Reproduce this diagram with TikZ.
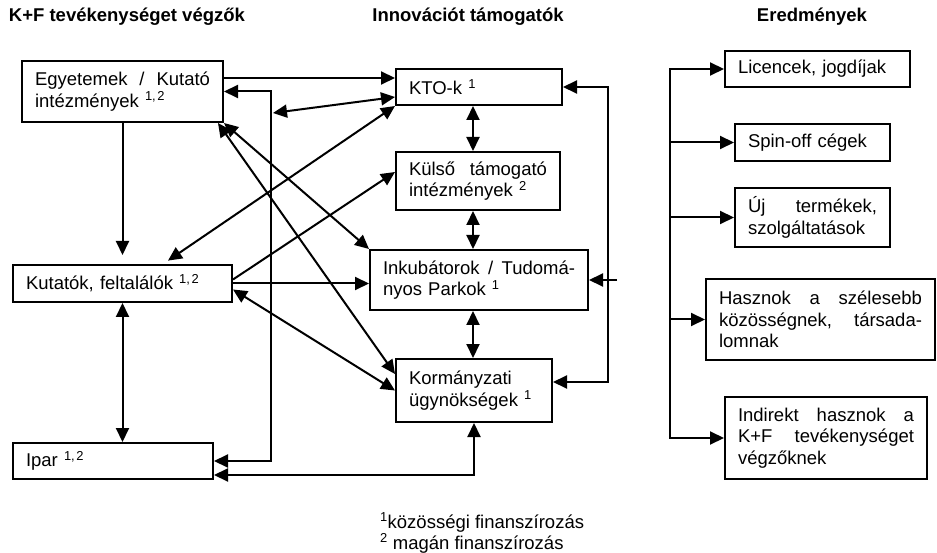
\documentclass[tikz,border=0pt]{standalone}
\usepackage{fontspec}
\setmainfont{Liberation Sans}
\usetikzlibrary{positioning, calc, arrows.meta}

\tikzset{
	blk/.style={rectangle, draw, inner xsep=13pt, inner ysep=0pt, align=left, font=\fontsize{18.5}{21.5}\selectfont},
	hdr/.style={inner sep=0pt, font=\fontsize{18.5}{21.5}\selectfont\bfseries},
	fnote/.style={inner sep=0pt, font=\fontsize{18.5}{21.5}\selectfont}
}

\begin{document}
\begin{tikzpicture}[x=1pt, y=-1pt, line width=2pt, >={Triangle[length=14pt, width=13pt]}]
			\useasboundingbox (0,0) rectangle (937,553);
			% Define the headers
			\node (hkf) [hdr, anchor=west] at (8,17) {K+F tevékenységet végzők};
			\node (hinno) [hdr] at (468,17) {Innovációt támogatók};
			\node (hered) [hdr] at (812,17) {Eredmények};
			% Define the nodes
			\node (egy) [blk, text width=175pt, minimum height=61pt] at (122.5,91.5) {Egyetemek \hfill/ \hfill Kutató\\intézmények \textsuperscript{1,\kern1.5pt2}};
			\node (kut) [blk, text width=193pt, minimum height=37pt] at (122.5,283.5) {Kutatók, feltalálók \textsuperscript{1,\kern1.5pt2}};
			\node (ipar) [blk, text width=174pt, minimum height=36pt] at (113,461) {Ipar \textsuperscript{1,\kern1.5pt2}};
			\node (kto) [blk, text width=140pt, minimum height=36pt] at (479,87) {KTO-k \textsuperscript{1}};
			\node (kulso) [blk, text width=138pt, minimum height=58pt] at (478,181) {Külső \hfill támogató\\intézmények \textsuperscript{2}};
			\node (inku) [blk, text width=192pt, minimum height=60pt] at (479,280) {Inkubátorok \hfill/ \hfill Tudomá-\\nyos Parkok \textsuperscript{1}};
			\node (korm) [blk, text width=130pt, minimum height=63pt] at (474,390.5) {Kormányzati\\ügynökségek \textsuperscript{1}};
			\node (lic) [blk, text width=159pt, minimum height=36pt] at (817.5,69) {Licencek, jogdíjak};
			\node (spin) [blk, text width=129pt, minimum height=37pt] at (812.5,142.5) {Spin-off cégek};
			\node (uj) [blk, text width=129pt, minimum height=59pt] at (812.5,217.5) {Új \hfill termékek,\\szolgáltatások};
			\node (hasz) [blk, text width=203pt, minimum height=81pt] at (820.5,319.5) {Hasznok \hfill a \hfill szélesebb\\közösségnek, \hfill társada-\\lomnak};
			\node (indi) [blk, text width=176pt, minimum height=82pt] at (826,438) {Indirekt \hfill hasznok \hfill a\\K+F \hfill tevékenységet\\végzőknek};
			% Footnotes
			\node (fn1) [fnote, anchor=base west] at (379,528) {\textsuperscript{1}közösségi finanszírozás};
			\node (fn2) [fnote, anchor=base west] at (379,549) {\textsuperscript{2} magán finanszírozás};
			% Bends and free ends
			\coordinate (lbus) at (271,461);
			\coordinate (lbusm) at (273,113);
			\coordinate (rbus) at (608,382);
			\coordinate (rstub) at (617,280);
			\coordinate (mcol) at (473,0);
			\coordinate (rtree) at (670,0);
			% Connect the nodes
			\draw [->] (egy.east |- 0,78) -- (kto.west |- 0,78);
			\draw [<->] (egy.east) -| (lbus) -- (ipar.east);
			\draw [<->] (lbusm) -- (kto.west |- 0,97);
			\draw [<->, shorten <=6pt] (163,0 |- kut.north) -- (kto.south west);
			\draw [->] ([yshift=4pt]kut.east) -- (kulso.west |- 0,172);
			\draw [<->] (egy.south east) -- (inku.north west);
			\draw [<->] ([xshift=-6pt]egy.south east) -- (korm.west |- 0,374);
			\draw [->] (kut.east) -- (kut.east -| inku.west);
			\draw [<->] ([yshift=-6pt]kut.east) -- (korm.west);
			\draw [->, shorten >=9pt] (egy.south) -- (egy.south |- kut.north);
			\draw [<->] (kut.south) -- (kut.south |- ipar.north);
			\draw [<->] ([yshift=-14pt]ipar.east) -| (korm.south);
			\draw [<->] (mcol |- kto.south) -- (mcol |- kulso.north);
			\draw [<->] (mcol |- kulso.south) -- (mcol |- inku.north);
			\draw [<->] (mcol |- inku.south) -- (mcol |- korm.north);
			\draw [<->] (kto.east) -| (rbus) -- (korm.east |- rbus);
			\draw [->] (rstub) -- (inku.east);
			% Results tree
			\draw [<->] (lic.west) -| (rtree |- indi.west) -- (indi.west);
			\draw [->] (rtree |- spin.west) -- (spin.west);
			\draw [->] (rtree |- uj.west) -- (uj.west);
			\draw [->] (rtree |- hasz.west) -- (hasz.west);
		\end{tikzpicture}
\end{document}
